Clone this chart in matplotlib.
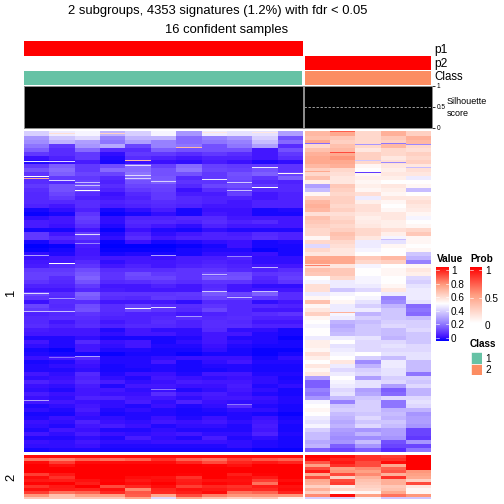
import numpy as np
import matplotlib
matplotlib.use("Agg")
import matplotlib.pyplot as plt
from matplotlib.colors import LinearSegmentedColormap

plt.rcParams['font.family'] = ['Liberation Sans', 'DejaVu Sans']

title_line1 = "2 subgroups, 4353 signatures (1.2%) with fdr < 0.05"
title_line2 = "16 confident samples"
p1_values_left = [1] * 11
p1_values_right = [0] * 5
p2_values_left = [0] * 11
p2_values_right = [1] * 5
silhouette_left = [1] * 11
silhouette_right = [1] * 5
value_ticks = [0, 0.2, 0.4, 0.6, 0.8, 1]
prob_ticks = [0, 0.5, 1]
sil_ticks = [0, 0.5, 1]
class_labels = ["1", "2"]
class_colors = ["#66C2A5", "#FC8D62"]

# Top block, 11 samples of class 1 (hundredths)
top_left = [
 [40,46,48,34,40,48,28,46,44,44,30],[28,38,42,24,34,34,20,24,28,40,16],
 [26,34,30,22,30,24,20,22,24,36,20],[22,12,28,32,14,24,22,16,22,30,10],
 [18,10,20,10,10,18,16,16,16,6,16],[12,10,12,4,12,12,10,12,10,6,12],
 [5,8,12,3,10,8,6,8,8,6,10],[3,5,7,2,5,5,4,7,5,3,4],
 [12,18,12,15,20,13,20,13,12,12,11],[16,20,12,20,20,16,22,14,13,16,11],
 [11,18,14,14,22,16,16,12,16,18,14],[9,12,12,9,20,17,9,12,15,11,18],
 [10,9,13,8,16,18,11,11,14,9,8],[12,16,16,10,14,14,9,14,15,12,9],
 [10,16,14,8,12,13,5,10,12,9,9],[9,14,10,5,9,12,7,7,13,6,8],
 [9,12,8,6,8,12,9,8,8,6,8],[9,9,10,8,9,10,9,8,6,8,8],
 [8,6,10,7,8,9,8,6,6,8,8],[2,4,8,2,4,7,2,5,5,2,3],
 [1,2,11,1,2,4,2,6,5,2,2],[4,6,13,4,8,8,9,9,6,6,6],
 [7,6,12,4,9,9,8,10,8,9,6],[7,5,10,3,8,6,4,8,6,6,6],
 [2,2,6,1,5,3,2,4,3,3,3],[12,6,13,3,8,4,6,8,7,9,8],
 [12,9,12,4,10,6,8,8,8,10,8],[2,6,8,1,5,2,3,4,5,2,3],
 [0,1,7,0,0,0,1,2,5,2,2],[1,2,6,1,1,1,2,3,3,1,2],
 [4,3,6,2,3,2,2,4,4,5,2],[5,6,7,6,6,5,7,7,8,4,4],
 [6,6,9,4,6,6,7,8,7,4,4],[7,9,11,6,8,6,8,9,8,6,6],
 [12,12,15,10,10,10,11,11,9,8,10],[13,13,17,11,15,12,11,14,15,11,12],
 [13,10,19,11,14,14,11,17,16,9,13],[11,9,16,9,10,11,10,11,11,8,11],
 [8,8,12,6,6,8,6,9,6,4,4],[6,6,9,7,6,6,6,10,6,6,6],
 [14,10,19,11,11,11,12,17,14,18,10],[11,9,17,10,9,12,11,14,12,12,10],
 [5,10,10,6,6,6,4,9,9,4,6],[14,9,15,10,13,10,10,11,9,9,8],
 [12,10,16,10,14,11,9,14,9,6,6],[8,9,11,9,8,8,6,8,9,10,11],
 [9,10,10,8,8,9,10,9,10,8,8],[9,6,9,6,8,10,8,10,9,6,6],
 [10,8,10,8,9,9,8,10,10,8,8],[7,6,6,3,6,4,4,9,4,4,2],
 [6,6,6,4,6,6,4,6,6,3,2],[3,3,4,2,2,2,3,6,3,3,1],
 [6,3,9,5,6,2,4,6,4,3,2],[4,3,6,4,6,3,3,5,3,2,2],
 [2,1,6,3,3,2,2,4,2,1,1],[3,2,2,1,2,2,1,2,2,1,2],
 [5,6,9,3,3,4,5,5,5,2,4],[2,3,6,3,3,6,2,4,6,3,3],
 [3,4,5,2,3,3,2,3,3,2,2],[3,3,4,2,2,3,2,2,3,2,2],
 [6,4,9,3,5,5,3,6,6,3,3],[4,5,8,4,3,6,5,4,5,4,2],
 [8,6,9,7,4,5,7,6,6,4,3],[5,4,7,3,6,6,5,5,7,3,4],
 [4,3,6,6,4,5,3,4,6,4,2],[7,5,6,5,5,10,6,7,5,3,2],
 [5,4,8,8,6,6,4,6,6,5,3],[6,6,5,4,7,4,8,5,4,4,3],
 [3,4,6,4,3,5,3,4,9,3,2],[4,3,7,3,4,3,2,3,4,4,2],
 [2,2,5,2,3,3,2,2,3,2,1],[3,5,4,4,3,5,3,5,3,5,2],
 [5,4,8,5,4,6,5,6,4,6,3],[4,3,6,7,5,3,4,4,3,7,2],
 [3,6,5,3,3,4,3,3,3,6,2],[6,4,7,5,4,5,6,4,4,8,3],
 [3,3,4,3,7,4,3,7,3,4,2],[5,4,6,4,4,5,5,5,4,3,2],
 [4,4,5,3,3,3,3,3,4,3,2],[2,3,3,2,2,2,2,2,2,1,1],
]
# Top block, 5 samples of class 2
top_right = [
 [68,72,60,70,62],[66,64,60,64,70],[72,62,60,62,68],[60,66,60,68,60],
 [66,68,56,60,58],[70,72,62,60,62],[72,76,62,56,60],[72,72,60,58,62],
 [68,70,52,56,56],[62,60,50,54,58],[60,58,52,56,56],[66,56,54,54,46],
 [54,56,52,50,50],[30,64,54,56,52],[36,62,52,54,36],[52,60,58,52,50],
 [62,62,46,56,56],[68,62,54,52,58],[70,60,58,50,56],[68,62,58,52,55],
 [58,58,56,56,52],[66,60,54,56,48],[64,62,55,54,50],[62,60,56,54,52],
 [60,62,60,58,60],[60,66,60,54,64],[52,64,56,48,52],[60,60,46,44,52],
 [42,58,46,52,50],[60,56,48,50,52],[56,56,50,50,38],[72,72,64,68,34],
 [74,72,60,62,24],[58,56,48,50,52],[66,64,50,52,56],[64,64,50,52,54],
 [50,60,48,50,42],[48,46,48,50,40],[58,46,46,52,44],[58,38,42,56,46],
 [46,48,50,46,46],[52,50,48,24,46],[66,52,44,26,44],[52,46,40,34,20],
 [56,46,46,38,22],[62,48,34,38,20],[52,46,40,38,36],[50,34,36,40,40],
 [48,32,38,42,40],[50,34,38,36,42],[50,36,38,36,38],[46,46,44,34,38],
 [54,50,42,42,38],[54,44,42,44,42],[52,46,42,42,42],[58,48,50,44,44],
 [54,50,40,36,44],[50,56,26,46,36],[56,46,34,46,36],[52,42,40,44,36],
 [56,46,42,44,22],[30,50,30,40,40],[18,48,44,42,38],[18,46,44,30,42],
 [24,42,30,18,34],[22,44,32,20,34],[28,36,38,42,42],[48,24,40,22,44],
 [50,38,40,22,42],[52,40,40,34,34],[50,36,38,36,28],[46,34,42,34,30],
 [44,32,38,38,30],[48,34,42,36,28],[40,30,28,30,14],[36,28,34,30,14],
 [36,26,26,28,12],[32,28,36,16,28],[34,18,28,14,14],[18,14,18,10,22],
]
# Bottom block
bottom_left = [
 [98,98,98,98,98,98,98,98,98,98,98],[82,80,84,82,84,92,84,82,90,86,84],
 [98,90,98,98,98,98,94,88,94,96,94],[100,97,100,100,100,100,100,99,97,100,100],
 [100,100,100,100,100,100,100,100,100,100,100],[100,100,100,100,100,100,100,100,100,100,100],
 [90,96,100,100,100,100,99,100,95,99,100],[98,92,100,100,98,97,92,100,98,96,100],
 [96,95,97,99,96,98,95,97,97,90,98],[99,100,95,100,98,100,96,99,98,82,100],
 [92,96,100,88,94,98,90,94,92,95,97],[97,95,94,97,78,94,97,96,94,93,98],
 [90,82,84,93,86,93,95,98,82,84,94],[76,66,74,74,85,72,88,80,76,76,76],
 [64,64,64,64,72,42,72,66,62,64,54],
]
bottom_right = [
 [100,98,92,90,100],[98,94,92,92,100],[86,96,88,98,100],[74,92,88,72,100],
 [88,74,78,84,100],[96,76,74,86,76],[72,88,78,70,74],[88,62,70,92,72],
 [72,88,66,70,62],[70,90,64,70,88],[62,55,62,64,56],[70,60,60,66,52],
 [62,50,52,72,52],[78,98,74,82,76],[40,40,48,38,38],
]
# Single thin rows in the top block: sample, pixel row below the block top, value
thin_left_col = [0,1,4,4,0,0,1,2,2,9,10,9,7,8,8,5,4,4,2,6,3,1,7,9,2,1,0,5,8,9,7,2,0,0,1,4,5,6,8,7,9,1,2,1,0,5,8]
thin_left_row = [30,30,29,34,45,47,49,51,59,56,42,36,48,51,59,50,44,47,54,16,2,2,1,1,103,132,124,124,125,136,143,112,162,180,180,177,176,185,166,160,160,167,225,226,269,258,273]
thin_left_val = [45,42,68,42,50,72,42,36,50,50,52,46,45,38,36,40,42,40,36,68,62,58,56,56,42,50,30,30,24,34,34,24,42,36,36,48,42,28,36,38,36,28,30,20,30,22,22]
thin_right_col = [0,3,4,2,1,2,2,3,4,0,3,0,1,1]
thin_right_row = [12,12,13,13,21,29,41,31,36,40,108,134,181,0]
thin_right_val = [20,22,25,28,88,38,12,25,36,72,36,80,70,85]

cmap = LinearSegmentedColormap.from_list(
    "value", [(0, "#0000FF"), (0.05, "#3F12FF"), (0.1, "#5A2EFF"), (0.25, "#9C88FF"),
              (0.5, "#FFFFFF"), (0.75, "#FF9E81"), (1, "#FF0000")])
prob_cmap = LinearSegmentedColormap.from_list("prob", ["#FFFFFF", "#FF9E81", "#FF0000"])

W = 504.0
fig = plt.figure(figsize=(7, 7), dpi=72, facecolor="white")

def px_ax(x0, y0, x1, y1):
    ax = fig.add_axes([x0 / W, 1 - y1 / W, (x1 - x0) / W, (y1 - y0) / W])
    ax.set_axis_off()
    return ax

def txt(x, y, s, size=8, ha="left", va="center", **kw):
    fig.text(x / W, 1 - (y + 1) / W, s, fontsize=size, ha=ha, va=va, color="black", **kw)

def block(x0, y0, x1, y1, rows, tc=(), tr=(), tv=()):
    m = np.array(rows, dtype=float) / 100
    h = int(round(y1 - y0))
    idx = np.minimum(np.arange(h) * len(m) // h, len(m) - 1)
    hi = m[idx]
    for c, r, v in zip(tc, tr, tv):
        hi[min(r, h - 1), c] = v / 100
    ax = px_ax(x0, y0, x1, y1)
    ax.imshow(hi, cmap=cmap, vmin=0, vmax=1, aspect="auto", interpolation="nearest")

LX0, LX1, RX0, RX1 = 24, 302, 305, 431

block(LX0, 131, LX1, 452, top_left, thin_left_col, thin_left_row, thin_left_val)
block(RX0, 131, RX1, 452, top_right, thin_right_col, thin_right_row, thin_right_val)
block(LX0, 455, LX1, 499, bottom_left)
block(RX0, 455, RX1, 499, bottom_right)

# annotation rows
for (x0, x1, p1, p2, k) in [(LX0, LX1, p1_values_left, p2_values_left, 0),
                            (RX0, RX1, p1_values_right, p2_values_right, 1)]:
    a = px_ax(x0, 41, x1, 56)
    a.imshow([p1], cmap=prob_cmap, vmin=0, vmax=1, aspect="auto", interpolation="nearest")
    a = px_ax(x0, 56, x1, 70)
    a.imshow([p2], cmap=prob_cmap, vmin=0, vmax=1, aspect="auto", interpolation="nearest")
    a = px_ax(x0, 71, x1, 85)
    a.set_facecolor(class_colors[k])
    a.set_axis_on()
    a.set_xticks([]); a.set_yticks([])
    for s in a.spines.values():
        s.set_visible(False)

# silhouette panels
for (x0, x1, vals, dash) in [(23.5, 302.5, silhouette_left, False), (304, 431.5, silhouette_right, True)]:
    a = px_ax(x0, 85.5, x1, 128)
    a.bar(np.arange(len(vals)), vals, width=1.0, color="black", linewidth=0)
    a.set_xlim(-0.5, len(vals) - 0.5)
    a.set_ylim(0, 1)
    a.set_axis_on()
    a.set_xticks([]); a.set_yticks([])
    for s in a.spines.values():
        s.set_color("#8c8c8c"); s.set_linewidth(1)
    if dash:
        a.axhline(0.5, color="#bdbdbd", lw=0.8, ls=(0, (3, 2)))
        a.yaxis.tick_right()
        a.set_yticks(sil_ticks)
        a.set_yticklabels([])
        a.tick_params(axis="y", length=3, width=0.8, color="black", pad=1)
for v, lab in zip(sil_ticks, ["0", "0.5", "1"]):
    txt(437, 127 - 41 * v, lab, size=6.5)
txt(447, 100.5, "Silhouette", size=9)
txt(447, 112, "score", size=9)

txt(218, 10, title_line1, size=13, ha="center")
txt(227, 28.5, title_line2, size=13, ha="center")
txt(434.5, 48.5, "p1", size=12)
txt(434.5, 62.5, "p2", size=12)
txt(434.5, 75.5, "Class", size=11.5)
txt(11, 292, "1", size=13, ha="center", rotation=90)
txt(11, 476, "2", size=13, ha="center", rotation=90)

# Value legend
txt(437, 258, "Value", size=10, fontweight="bold")
a = px_ax(436, 267, 449, 341)
a.imshow(np.linspace(1, 0, 200)[:, None], cmap=cmap, vmin=0, vmax=1, aspect="auto", interpolation="bilinear")
for v in value_ticks:
    y = 338 - 68 * v
    txt(451, y, f"{v:g}", size=10)
    fig.add_artist(plt.Line2D([436 / W, 439 / W], [1 - y / W] * 2, color="white", lw=0.6))
    fig.add_artist(plt.Line2D([446 / W, 449 / W], [1 - y / W] * 2, color="white", lw=0.6))

# Prob legend
txt(470, 258, "Prob", size=10, fontweight="bold")
a = px_ax(470, 267, 482, 323)
a.imshow(np.linspace(1, 0, 200)[:, None], cmap=prob_cmap, vmin=0, vmax=1, aspect="auto", interpolation="bilinear")
for v in prob_ticks:
    y = 325 - 55 * v
    txt(485, y, f"{v:g}", size=10)
    if v > 0:
        fig.add_artist(plt.Line2D([470 / W, 473 / W], [1 - y / W] * 2, color="white", lw=0.6))
        fig.add_artist(plt.Line2D([479 / W, 482 / W], [1 - y / W] * 2, color="white", lw=0.6))

# Class legend
txt(470, 343, "Class", size=10, fontweight="bold")
for i, (lab, col) in enumerate(zip(class_labels, class_colors)):
    y0 = 352 + 11.5 * i
    a = px_ax(471, y0, 482, y0 + 11.5)
    a.set_axis_on()
    a.set_facecolor(col)
    a.set_xticks([]); a.set_yticks([])
    for s in a.spines.values():
        s.set_color("white"); s.set_linewidth(0.8)
    txt(485, y0 + 5.5, lab, size=10)

fig.savefig("out.png", dpi=72, facecolor="white")
